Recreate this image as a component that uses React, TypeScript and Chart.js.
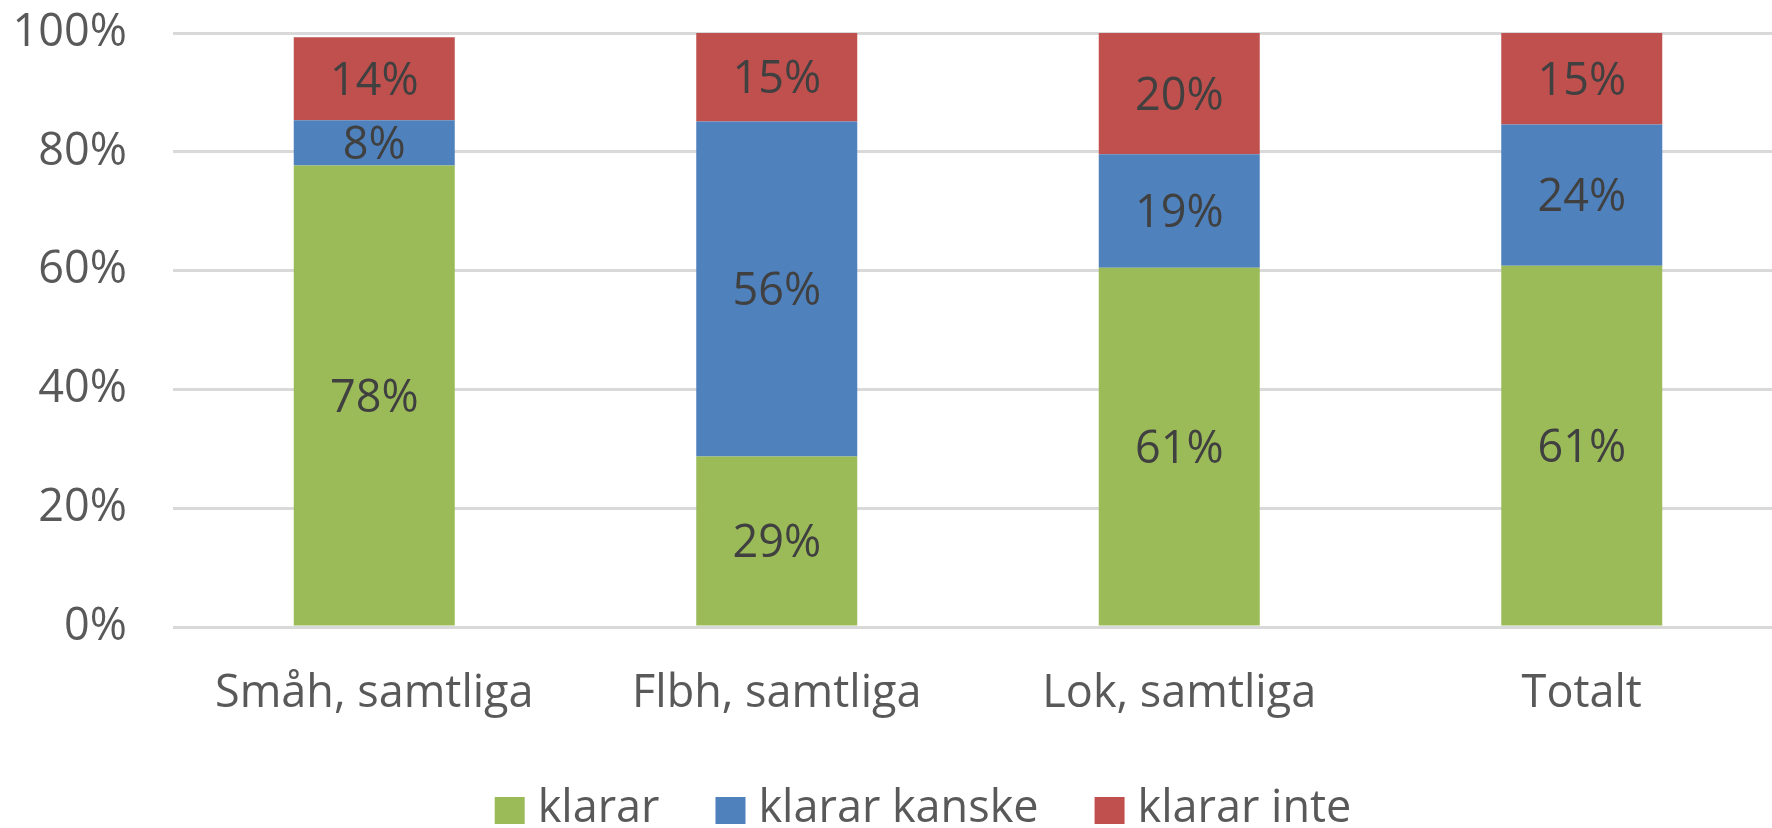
import { useEffect, useRef } from 'react';
import { Chart, registerables } from 'chart.js';

Chart.register(...registerables);

const categories = ['Småh, samtliga', 'Flbh, samtliga', 'Lok, samtliga', 'Totalt'];
const klarar = [77.7, 28.7, 60.5, 60.8];
const klararKanske = [7.6, 56.4, 19.1, 23.8];
const klararInte = [14.0, 14.9, 20.4, 15.4];
const seriesNames = ['klarar', 'klarar kanske', 'klarar inte'];
const seriesColors = ['#9BBB59', '#4F81BD', '#C0504D'];
const yMin = 0;
const yMax = 100;
const yStep = 20;

const FONT = '"Open Sans", Lato, sans-serif';
const FS = 45;

const segLabelPlugin = {
  id: 'segLabels',
  afterDatasetsDraw(chart: any) {
    const ctx = chart.ctx;
    ctx.save();
    ctx.font = `${FS}px ${FONT}`;
    ctx.fillStyle = '#404040';
    ctx.textAlign = 'center';
    ctx.textBaseline = 'alphabetic';
    chart.data.datasets.forEach((ds: any, i: number) => {
      const meta = chart.getDatasetMeta(i);
      meta.data.forEach((bar: any, j: number) => {
        const p = bar.getProps(['x', 'y', 'base'], true);
        const cy = (p.y + p.base) / 2;
        ctx.fillText(Math.round(ds.data[j]) + '%', p.x, cy + (FS * 0.72) / 2);
      });
    });
    ctx.restore();
  },
};

const legendPlugin = {
  id: 'customLegend',
  afterDraw(chart: any, _args: any, opts: any) {
    const ctx = chart.ctx;
    ctx.save();
    ctx.font = `${FS}px ${FONT}`;
    const items = chart.data.datasets.map((ds: any) => ({
      text: ds.label,
      color: ds.backgroundColor,
      w: ctx.measureText(ds.label).width,
    }));
    const total =
      items.reduce((s: number, it: any) => s + opts.boxW + opts.gap + it.w, 0) +
      opts.spacing * (items.length - 1);
    let x = opts.centerX - total / 2;
    items.forEach((it: any) => {
      ctx.fillStyle = it.color;
      ctx.fillRect(x, opts.boxTop, opts.boxW, opts.boxH);
      ctx.fillStyle = '#595959';
      ctx.textAlign = 'left';
      ctx.textBaseline = 'alphabetic';
      ctx.fillText(it.text, x + opts.boxW + opts.gap, opts.baseline);
      x += opts.boxW + opts.gap + it.w + opts.spacing;
    });
    ctx.restore();
  },
};

function ChartView() {
  const ref = useRef<HTMLCanvasElement | null>(null);
  useEffect(() => {
    let chart: Chart | null = null;
    let cancelled = false;
    const make = () => {
      if (cancelled || !ref.current) return;
      chart = new Chart(ref.current, {
        type: 'bar',
        data: {
          labels: categories,
          datasets: [
            { label: seriesNames[0], data: klarar, backgroundColor: seriesColors[0] },
            { label: seriesNames[1], data: klararKanske, backgroundColor: seriesColors[1] },
            { label: seriesNames[2], data: klararInte, backgroundColor: seriesColors[2] },
          ],
        },
        options: {
          responsive: false,
          animation: false,
          devicePixelRatio: 1,
          layout: { padding: { top: 33, bottom: 101, left: 0, right: 0 } },
          datasets: {
            bar: { categoryPercentage: 1, barPercentage: 0.4, borderWidth: 0 },
          },
          plugins: {
            legend: { display: false },
            tooltip: { enabled: false },
            customLegend: {
              centerX: 923,
              boxTop: 797,
              boxW: 30,
              boxH: 27,
              gap: 13,
              spacing: 56,
              baseline: 822,
            },
          } as any,
          scales: {
            x: {
              stacked: true,
              grid: { display: false, drawTicks: false },
              border: { display: false },
              ticks: {
                font: { family: FONT, size: FS },
                color: '#595959',
                padding: 40,
                maxRotation: 0,
                autoSkip: false,
              },
              afterFit: (s: any) => {
                s.height = 100;
                s.paddingLeft = 0;
                s.paddingRight = 0;
              },
            },
            y: {
              stacked: true,
              min: yMin,
              max: yMax,
              grid: { color: '#D9D9D9', lineWidth: 3, drawTicks: false },
              border: { display: false },
              ticks: {
                stepSize: yStep,
                font: { family: FONT, size: FS },
                color: '#595959',
                padding: 46,
                callback: (v: any) => v + '%',
              },
              afterFit: (s: any) => {
                s.width = 173;
                s.paddingTop = 0;
                s.paddingBottom = 0;
              },
            },
          },
        },
        plugins: [segLabelPlugin, legendPlugin],
      });
    };
    const fontsReady = (document as any).fonts
      ? Promise.all([
          (document as any).fonts.load(`${FS}px "Open Sans"`),
          (document as any).fonts.load(`${FS}px Lato`),
        ]).catch(() => null)
      : Promise.resolve();
    fontsReady.then(make);
    return () => {
      cancelled = true;
      if (chart) chart.destroy();
    };
  }, []);
  return (
    <div
      style={{
        position: 'fixed',
        left: 0,
        top: 0,
        width: 1772,
        height: 828,
        overflow: 'hidden',
        background: '#ffffff',
      }}
    >
      <canvas ref={ref} width={1783} height={828} style={{ display: 'block' }} />
    </div>
  );
}

export default function App() {
  return <ChartView />;
}
